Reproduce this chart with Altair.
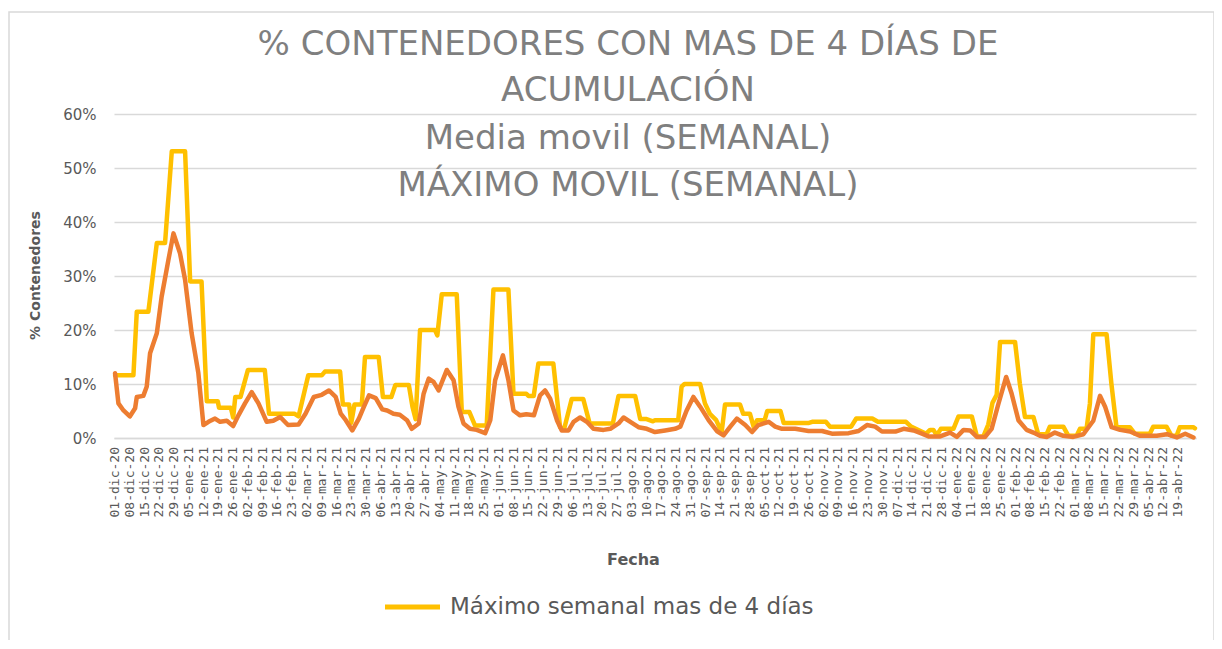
import datetime as dt
import altair as alt
import pandas as pd

# ---------------- data ----------------
MESES = ["ene", "feb", "mar", "abr", "may", "jun", "jul", "ago", "sep", "oct", "nov", "dic"]
START = dt.date(2020, 12, 1)
TICK_DAYS = list(range(0, 505, 7))
TICK_LABELS = [
    f"{(START + dt.timedelta(days=d)).day:02d}-{MESES[(START + dt.timedelta(days=d)).month - 1]}-{(START + dt.timedelta(days=d)).year % 100:02d}"
    for d in TICK_DAYS
]

# weekly moving maximum (vertices: day since 01-dic-20, %)
max_days = [0, 8.7, 10.3, 15.8, 19.8, 23.7, 26.9, 33.2, 35.6, 41, 43.5, 48.7, 49.3, 54.9, 56, 57, 59.5,
            63, 71, 73, 85, 87, 91.6, 98, 99.5, 106.7, 108, 111, 112, 113.5, 117, 118.5, 125, 127, 131,
            132.9, 139.3, 141, 142.5, 144.6, 151.7, 152.8, 154.9, 162, 164.4, 168, 170.7, 176.2, 179.4,
            186.5, 188.9, 195, 196, 198.5, 200.7, 207.8, 211, 213, 216.5, 222, 225, 236, 238.7, 246.6,
            249, 252, 255, 256, 267, 268.6, 270, 277.4, 279.7, 282, 285, 287.6, 289.2, 296.3, 297.8, 301,
            302.8, 304.4, 308, 309.2, 315.5, 317, 329, 330.5, 337, 339, 349, 351.4, 359, 361.7, 375,
            377.4, 384.6, 386.4, 388, 389.6, 391.5, 397.5, 399.9, 406.2, 408.6, 411.7, 414, 416, 418,
            419.6, 426.7, 429, 431.4, 435.4, 437.7, 441.7, 443.2, 449.6, 452, 455.9, 457.5, 460.6, 462.2,
            463.8, 470.1, 472.4, 474.8, 481.1, 483.5, 490.6, 492.2, 498.5, 500.9, 503.3, 504.8, 511.2, 512]
max_vals = [11.6, 11.6, 23.4, 23.4, 36.1, 36.1, 53.1, 53.1, 29.0, 29.0, 6.8, 6.8, 5.6, 5.6, 3.8, 7.6, 7.6,
            12.6, 12.6, 4.5, 4.5, 4.0, 11.6, 11.6, 12.3, 12.3, 6.2, 6.2, 2.8, 6.2, 6.2, 15.0, 15.0, 7.6, 7.6,
            9.8, 9.8, 5.8, 3.5, 20.0, 20.0, 19.0, 26.6, 26.6, 4.8, 4.8, 2.3, 2.3, 27.5,
            27.5, 8.2, 8.2, 7.8, 7.8, 13.8, 13.8, 2.0, 1.8, 7.2, 7.2, 2.7, 2.7, 7.8, 7.8,
            3.5, 3.5, 3.1, 3.3, 3.3, 9.5, 10.0, 10.0, 6.4, 4.5, 3.3, 1.1, 6.2, 6.2, 4.5, 4.5,
            2.0, 3.3, 3.3, 5.0, 5.0, 2.8, 2.8, 3.0, 3.0, 2.1, 2.1, 3.6, 3.6, 3.0, 3.0,
            2.1, 0.8, 1.5, 1.5, 0.5, 1.7, 1.7, 4.0, 4.0, 0.3, 0.3, 2.5, 6.5, 8.0,
            17.8, 17.8, 10.0, 3.9, 3.9, 0.7, 0.7, 2.1, 2.1, 0.4, 0.4, 1.7, 1.7, 6.4,
            19.2, 19.2, 10.0, 2.0, 2.0, 0.8, 0.8, 2.1, 2.1, 0.4, 0.4, 2.0, 2.0, 1.8]

# weekly moving average (vertices: day since 01-dic-20, %)
avg_days = [0, 1.6, 4, 7, 9.5, 10.3, 13.4, 15, 16.6, 19.8, 22.1, 25.3, 27.7, 30.8, 33.2, 36.3, 39.5, 41.9,
            44.3, 47.4, 49.8, 53, 56, 58.5, 61.6, 64.8, 68, 71.9, 75, 78.3, 82, 87, 90.3, 94.2, 98, 101.4,
            104.6, 107, 109.4, 112.5, 115.6, 118, 120.4, 123.6, 126.7, 129, 132, 135, 138.4, 140.7, 144,
            146.3, 148.7, 151, 153.4, 157.3, 160.5, 162.8, 165.2, 168.3, 171.5, 175.5, 177.9, 180.2,
            183.9, 186.5, 188.9, 192, 195, 198.6, 201.5, 203.9, 206.3, 209.5, 211.8, 215, 217.4, 220.5,
            223.7, 226.8, 231.6, 234.8, 238.7, 241.1, 244.3, 248.2, 252.1, 256, 260.8, 265.5, 268, 271,
            274.2, 277.4, 281.4, 285.3, 288.5, 291.7, 294.8, 298.8, 302, 305, 309.9, 313, 316.2, 322.5,
            328.8, 335.2, 339.9, 347.8, 352.5, 356.5, 360.4, 363.6, 370, 373.9, 378.6, 382.6, 385.7,
            391.2, 395.9, 399.1, 402.3, 405.4, 408.6, 412.5, 415.6, 418.8, 422.5, 425.1, 428.3, 432.2,
            435.4, 438.5, 441.7, 445.6, 449.6, 454.3, 459.1, 463.8, 467, 469.4, 472.5, 476.5, 481.2, 486,
            493.9, 498.7, 503.4, 507.4, 511.3]
avg_vals = [12.0, 6.4, 5.1, 4.0, 5.5, 7.6, 7.8, 9.5, 15.7, 19.4, 26.2, 33.0, 37.9, 34.2, 29.3, 19.4, 12.0, 2.4,
            3.0, 3.6, 3.0, 3.2, 2.2, 4.2, 6.4, 8.5, 6.4, 3.0, 3.2, 3.9, 2.4, 2.5, 4.5, 7.6, 8.0, 8.8,
            7.6, 4.5, 3.3, 1.4, 3.6, 5.8, 7.9, 7.4, 5.3, 5.1, 4.5, 4.3, 3.3, 1.7, 2.7,
            8.2, 11.0, 10.4, 8.8, 12.6, 10.7, 5.8, 2.7, 1.7, 1.5, 0.9, 3.3, 10.7,
            15.3, 10.7, 5.1, 4.2, 4.4, 4.2, 7.9, 8.8, 7.3, 3.3, 1.4, 1.4, 3.0, 3.8,
            3.0, 1.7, 1.5, 1.7, 2.7, 3.8, 3.0, 2.0, 1.7, 1.1, 1.4, 1.7, 2.1, 5.1,
            7.6, 5.8, 3.3, 1.3, 0.5, 2.1, 3.6, 2.4, 1.1, 2.4, 3.0, 2.1, 1.7, 1.7,
            1.3, 1.3, 0.8, 0.9, 1.3, 2.4, 2.1, 1.2, 1.2, 1.7, 1.4, 0.8, 0.3,
            0.3, 1.0, 0.2, 1.5, 1.4, 0.2, 0.2, 1.7, 6.3, 11.3, 8.2, 3.3, 1.5,
            1.0, 0.4, 0.2, 1.0, 0.4, 0.2, 0.7, 3.2, 7.8, 5.8, 2.0, 1.5, 1.2, 0.4,
            0.4, 0.7, 0.1, 0.8, 0.1]

TITLE_LINES = ["% CONTENEDORES CON MAS DE 4 DÍAS DE", "ACUMULACIÓN",
               "Media movil (SEMANAL)", "MÁXIMO MOVIL (SEMANAL)"]
LEGEND_LABEL = "Máximo semanal mas de 4 días"
Y_TITLE = "% Contenedores"
X_TITLE = "Fecha"

# ---------------- chart ----------------
W, H = 1082, 324
GRAY = "#595959"
GRID = "#d9d9d9"

df_max = pd.DataFrame({"day": max_days, "v": [v / 100 for v in max_vals]})
df_avg = pd.DataFrame({"day": avg_days, "v": [v / 100 for v in avg_vals]})
df_ticks = pd.DataFrame({"day": TICK_DAYS, "label": TICK_LABELS})

x_scale = alt.Scale(domain=[-0.5, 512.5], nice=False, zero=False)

x_enc = alt.X(
    "day:Q",
    scale=x_scale,
    axis=alt.Axis(
        values=TICK_DAYS, labels=False, ticks=False, grid=False, domainColor=GRID, domainWidth=1.5,
        title=X_TITLE, titleFont="DejaVu Sans", titleFontSize=16, titleFontWeight="bold",
        titleColor=GRAY, titleX=519, titleY=121, titleBaseline="middle", titleAlign="center",
    ),
)
y_enc = alt.Y(
    "v:Q",
    scale=alt.Scale(domain=[0, 0.6], nice=False),
    axis=alt.Axis(
        values=[0, 0.1, 0.2, 0.3, 0.4, 0.5, 0.6], format=".0%", labelFont="DejaVu Sans",
        labelFontSize=15, labelColor=GRAY, labelPadding=18, ticks=False, domain=False,
        gridColor=GRID, gridWidth=1.5,
        title=Y_TITLE, titleFont="DejaVu Sans", titleFontSize=14, titleFontWeight="bold",
        titleColor=GRAY, titleAngle=270, titleX=-79, titleY=161, titleAlign="center",
        titleBaseline="middle",
    ),
)

line_max = alt.Chart(df_max).mark_line(
    color="#FFC000", strokeWidth=4.5, strokeJoin="round", strokeCap="round"
).encode(x=x_enc, y=y_enc)

line_avg = alt.Chart(df_avg).mark_line(
    color="#ED7D31", strokeWidth=4.5, strokeJoin="round", strokeCap="round"
).encode(x="day:Q", y="v:Q")

tick_labels = alt.Chart(df_ticks).mark_text(
    font="DejaVu Sans Mono", fontSize=13, color=GRAY, angle=270, align="right", baseline="middle"
).encode(x="day:Q", y=alt.value(333), text="label:N")

one = pd.DataFrame({"k": [0]})

frame = alt.Chart(one).mark_rect(
    fillOpacity=0, stroke=GRID, strokeWidth=1.5
).encode(x=alt.value(-105), x2=alt.value(1100), y=alt.value(-102), y2=alt.value(560))

title_y = [-69, -23, 25, 72]
title_layers = [
    alt.Chart(pd.DataFrame({"t": [line]})).mark_text(
        font="DejaVu Sans", fontSize=34, color="#7f7f7f", align="center", baseline="middle"
    ).encode(text="t:N", x=alt.value(514), y=alt.value(yy))
    for line, yy in zip(TITLE_LINES, title_y)
]

legend_line = alt.Chart(one).mark_rule(
    color="#FFC000", strokeWidth=5
).encode(x=alt.value(271), x2=alt.value(326), y=alt.value(493))
legend_text = alt.Chart(pd.DataFrame({"t": [LEGEND_LABEL]})).mark_text(
    font="DejaVu Sans", fontSize=23, color=GRAY, align="left", baseline="middle"
).encode(text="t:N", x=alt.value(336), y=alt.value(493))

chart = alt.layer(
    frame, line_max, line_avg, tick_labels, *title_layers, legend_line, legend_text
).properties(
    width=W, height=H,
    autosize=alt.AutoSizeParams(type="none"),
    padding={"left": 106, "top": 106, "right": 18, "bottom": 202},
    background="white",
).configure_view(stroke=None)

chart.save("out.html", embed_options={"renderer": "svg", "actions": False})
